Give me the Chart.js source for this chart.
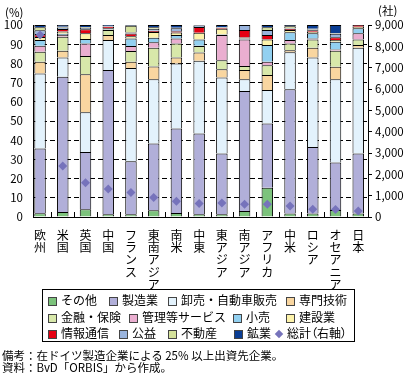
<!DOCTYPE html>
<html>
<head>
<meta charset="utf-8">
<script src="https://cdn.jsdelivr.net/npm/chart.js@4.4.1/dist/chart.umd.min.js"></script>
<style>
  body { margin: 0; background: #fff; font-family: 'Noto Sans CJK JP', sans-serif; color: #000; }
  #wrap { position: relative; width: 410px; height: 380px; overflow: hidden; }
  #box { position: absolute; left: 0; top: 0; width: 410px; height: 290px; }
  .unit { position: absolute; font-size: 11.5px; line-height: 12px; white-space: nowrap; }
  #legend { position: absolute; left: 42px; top: 289px; width: 313px; height: 53px; border: 1px solid #000; box-sizing: border-box; }
  .item { position: absolute; font-size: 12px; line-height: 14px; white-space: nowrap; }
  .sw { display: inline-block; width: 9px; height: 9px; border: 1px solid #444; box-sizing: border-box; margin-right: 4px; vertical-align: -1px; }
  .dia { display: inline-block; width: 6px; height: 6px; margin: 0 5px 0 2px; transform: rotate(45deg); vertical-align: 1px; }
  .note { position: absolute; left: 2px; font-size: 11.5px; line-height: 12px; white-space: nowrap; }
</style>
</head>
<body>
<div id="wrap">
  <div id="box"><canvas id="chart"></canvas></div>
  <div class="unit" style="left:5px;top:6px">(%)</div>
  <div class="unit" style="left:378px;top:4px">(社)</div>
  <div id="legend"></div>
  <div class="note" style="top:349px">備考：在ドイツ製造企業による 25% 以上出資先企業。</div>
  <div class="note" style="top:361px">資料：BvD「ORBIS」から作成。</div>
</div>
<script>
// regions (x axis)
const regions = ['欧州', '米国', '英国', '中国', 'フランス', '東南アジア', '南米', '中東',
  '東アジア', '南アジア', 'アフリカ', '中米', 'ロシア', 'オセアニア', '日本'];

const industries = ['その他', '製造業', '卸売・自動車販売', '専門技術', '金融・保険', '管理等サービス',
  '小売', '建設業', '情報通信', '公益', '不動産', '鉱業'];

// shares in % (bottom to top)
const sonota   = [1.9, 2.6, 4.0, 1.4, 1.4, 3.5, 2.1, 1.4, 1.4, 3.1, 15.2, 1.8, 1.8, 3.7, 1.8];
const seizo    = [33.8, 70.4, 29.9, 75.1, 27.6, 34.8, 44.0, 42.1, 31.7, 62.5, 33.5, 64.7, 34.7, 24.7, 31.3];
const oroshi   = [39.1, 10.1, 20.6, 15.7, 48.6, 33.4, 33.9, 37.9, 39.6, 6.1, 17.4, 19.3, 46.6, 43.3, 55.1];
const senmon   = [6.1, 3.5, 19.8, 2.6, 3.3, 6.7, 3.1, 4.3, 4.2, 4.8, 7.8, 1.0, 5.1, 6.5, 1.4];
const kinyu    = [5.2, 7.3, 9.5, 2.6, 5.5, 9.7, 7.3, 3.3, 4.8, 2.1, 5.2, 3.6, 4.3, 8.4, 2.9];
const kanri    = [3.1, 0.9, 6.6, 0.2, 2.7, 2.9, 2.6, 0.2, 13.1, 13.9, 1.8, 1.8, 0.5, 0.7, 3.2];
const kouri    = [3.0, 0.6, 2.3, 0.7, 3.9, 2.3, 1.8, 3.2, 0.3, 0.5, 8.7, 4.0, 2.7, 4.0, 2.6];
const kensetsu = [1.5, 1.2, 3.0, 0.2, 1.2, 3.0, 1.3, 3.5, 2.9, 0.5, 2.9, 1.2, 0.8, 0.9, 0.8];
const joho     = [1.6, 1.3, 2.1, 0.6, 1.4, 0.7, 0.7, 3.1, 0.6, 3.9, 2.3, 0.6, 0.8, 1.4, 0.9];
const koeki    = [2.0, 0.8, 0.8, 0.2, 0.5, 1.0, 1.5, 0.8, 0.2, 2.6, 2.6, 0.3, 0.4, 1.8, 0];
const fudosan  = [1.5, 0.4, 0.4, 0.1, 3.5, 0.8, 0.3, 0, 0.2, 0, 1.4, 1.0, 0.3, 0.3, 0];
const kogyo    = [1.2, 0.9, 1.0, 0.6, 0.4, 1.2, 1.4, 0.2, 1.0, 0, 1.2, 0.7, 2.0, 4.3, 0];

// companies total (right axis)
const total = [8530, 2390, 1600, 1310, 1150, 910, 740, 630, 660, 600, 600, 520, 360, 350, 280];

const shares = [sonota, seizo, oroshi, senmon, kinyu, kanri, kouri, kensetsu, joho, koeki, fudosan, kogyo];
const colors = ['#7cc37c', '#b1afd9', '#e3f2fc', '#f9d6a0', '#d8e8aa', '#eaaed0',
  '#92d0f0', '#fdf3aa', '#e50012', '#9ab4dd', '#d5e29b', '#0a3d94'];
const totalColor = '#7673bb';

Chart.defaults.font.family = "'Noto Sans CJK JP', sans-serif";
Chart.defaults.color = '#000';

const datasets = industries.map((name, k) => ({
  type: 'bar',
  label: name,
  data: shares[k],
  backgroundColor: colors[k],
  borderColor: '#000',
  borderWidth: 1,
  yAxisID: 'y',
  order: 1,
  categoryPercentage: 1,
  barPercentage: 0.505
}));
datasets.push({
  type: 'line',
  label: '総計（右軸）',
  data: total,
  yAxisID: 'y1',
  showLine: false,
  pointStyle: 'rectRot',
  pointRadius: 4.5,
  pointBackgroundColor: totalColor,
  pointBorderWidth: 0,
  order: 0
});

// little ticks between the bars at the bottom
const betweenTicks = {
  id: 'betweenTicks',
  afterDatasetsDraw(chart) {
    const x = chart.scales.x, a = chart.chartArea, c = chart.ctx;
    c.save();
    c.strokeStyle = '#000';
    c.lineWidth = 1;
    c.beginPath();
    for (let i = 0; i < regions.length - 1; i++) {
      const px = Math.round(x.getPixelForValue(i + 0.5)) + 0.5;
      c.moveTo(px, a.bottom);
      c.lineTo(px, a.bottom - 5);
    }
    c.stroke();
    c.restore();
  }
};

new Chart(document.getElementById('chart'), {
  data: { labels: regions.map((_, i) => i), datasets: datasets },
  options: {
    responsive: true,
    maintainAspectRatio: false,
    animation: false,
    locale: 'en-US',
    layout: { padding: { top: 25, left: 0, right: 0, bottom: 0 } },
    plugins: { legend: { display: false }, tooltip: { enabled: false } },
    scales: {
      x: {
        type: 'linear',
        min: -0.31,
        max: 14.43,
        offset: false,
        stacked: true,
        grid: { display: false },
        border: { display: true, color: '#000', width: 1 },
        afterBuildTicks: s => { s.ticks = regions.map((_, i) => ({ value: i })); },
        afterFit: s => { s.height = 290 - 217; },
        ticks: {
          autoSkip: false, maxRotation: 0, minRotation: 0, padding: 4,
          font: { size: 12, lineHeight: 1.03 },
          callback: v => regions[v] ? regions[v].split('') : ''
        }
      },
      y: {
        stacked: true,
        min: 0,
        max: 100,
        afterFit: s => { s.width = 33; },
        ticks: { stepSize: 10, padding: 10, font: { size: 11.5 } },
        grid: {
          drawTicks: false,
          color: c => (c.tick && c.tick.value > 0 && c.tick.value < 100) ? '#000' : 'rgba(0,0,0,0)'
        },
        border: { display: true, color: '#000', width: 1, dash: [5, 3] }
      },
      y1: {
        position: 'right',
        min: 0,
        max: 9000,
        afterFit: s => { s.width = 42; },
        ticks: { stepSize: 1000, padding: 3, font: { size: 11.5 } },
        grid: { drawOnChartArea: false, drawTicks: true, tickLength: 4, color: '#000' },
        border: { display: true, color: '#000', width: 1 }
      }
    }
  },
  plugins: [betweenTicks]
});

// legend box
const legendPos = [
  [5, 3], [66, 3], [125, 3], [243, 3],
  [5, 20], [86, 20], [190, 20], [243, 20],
  [5, 36], [76, 36], [125, 36], [191, 36], [231, 36]
];
const legend = document.getElementById('legend');
industries.forEach((name, k) => {
  const d = document.createElement('div');
  d.className = 'item';
  d.style.left = legendPos[k][0] + 'px';
  d.style.top = legendPos[k][1] + 'px';
  d.innerHTML = '<span class="sw" style="background:' + colors[k] + '"></span>' + name;
  legend.appendChild(d);
});
const t = document.createElement('div');
t.className = 'item';
t.style.left = legendPos[12][0] + 'px';
t.style.top = legendPos[12][1] + 'px';
t.style.fontFeatureSettings = '"palt"';
t.innerHTML = '<span class="dia" style="background:' + totalColor + '"></span>総計（右軸）';
legend.appendChild(t);
</script>
</body>
</html>
